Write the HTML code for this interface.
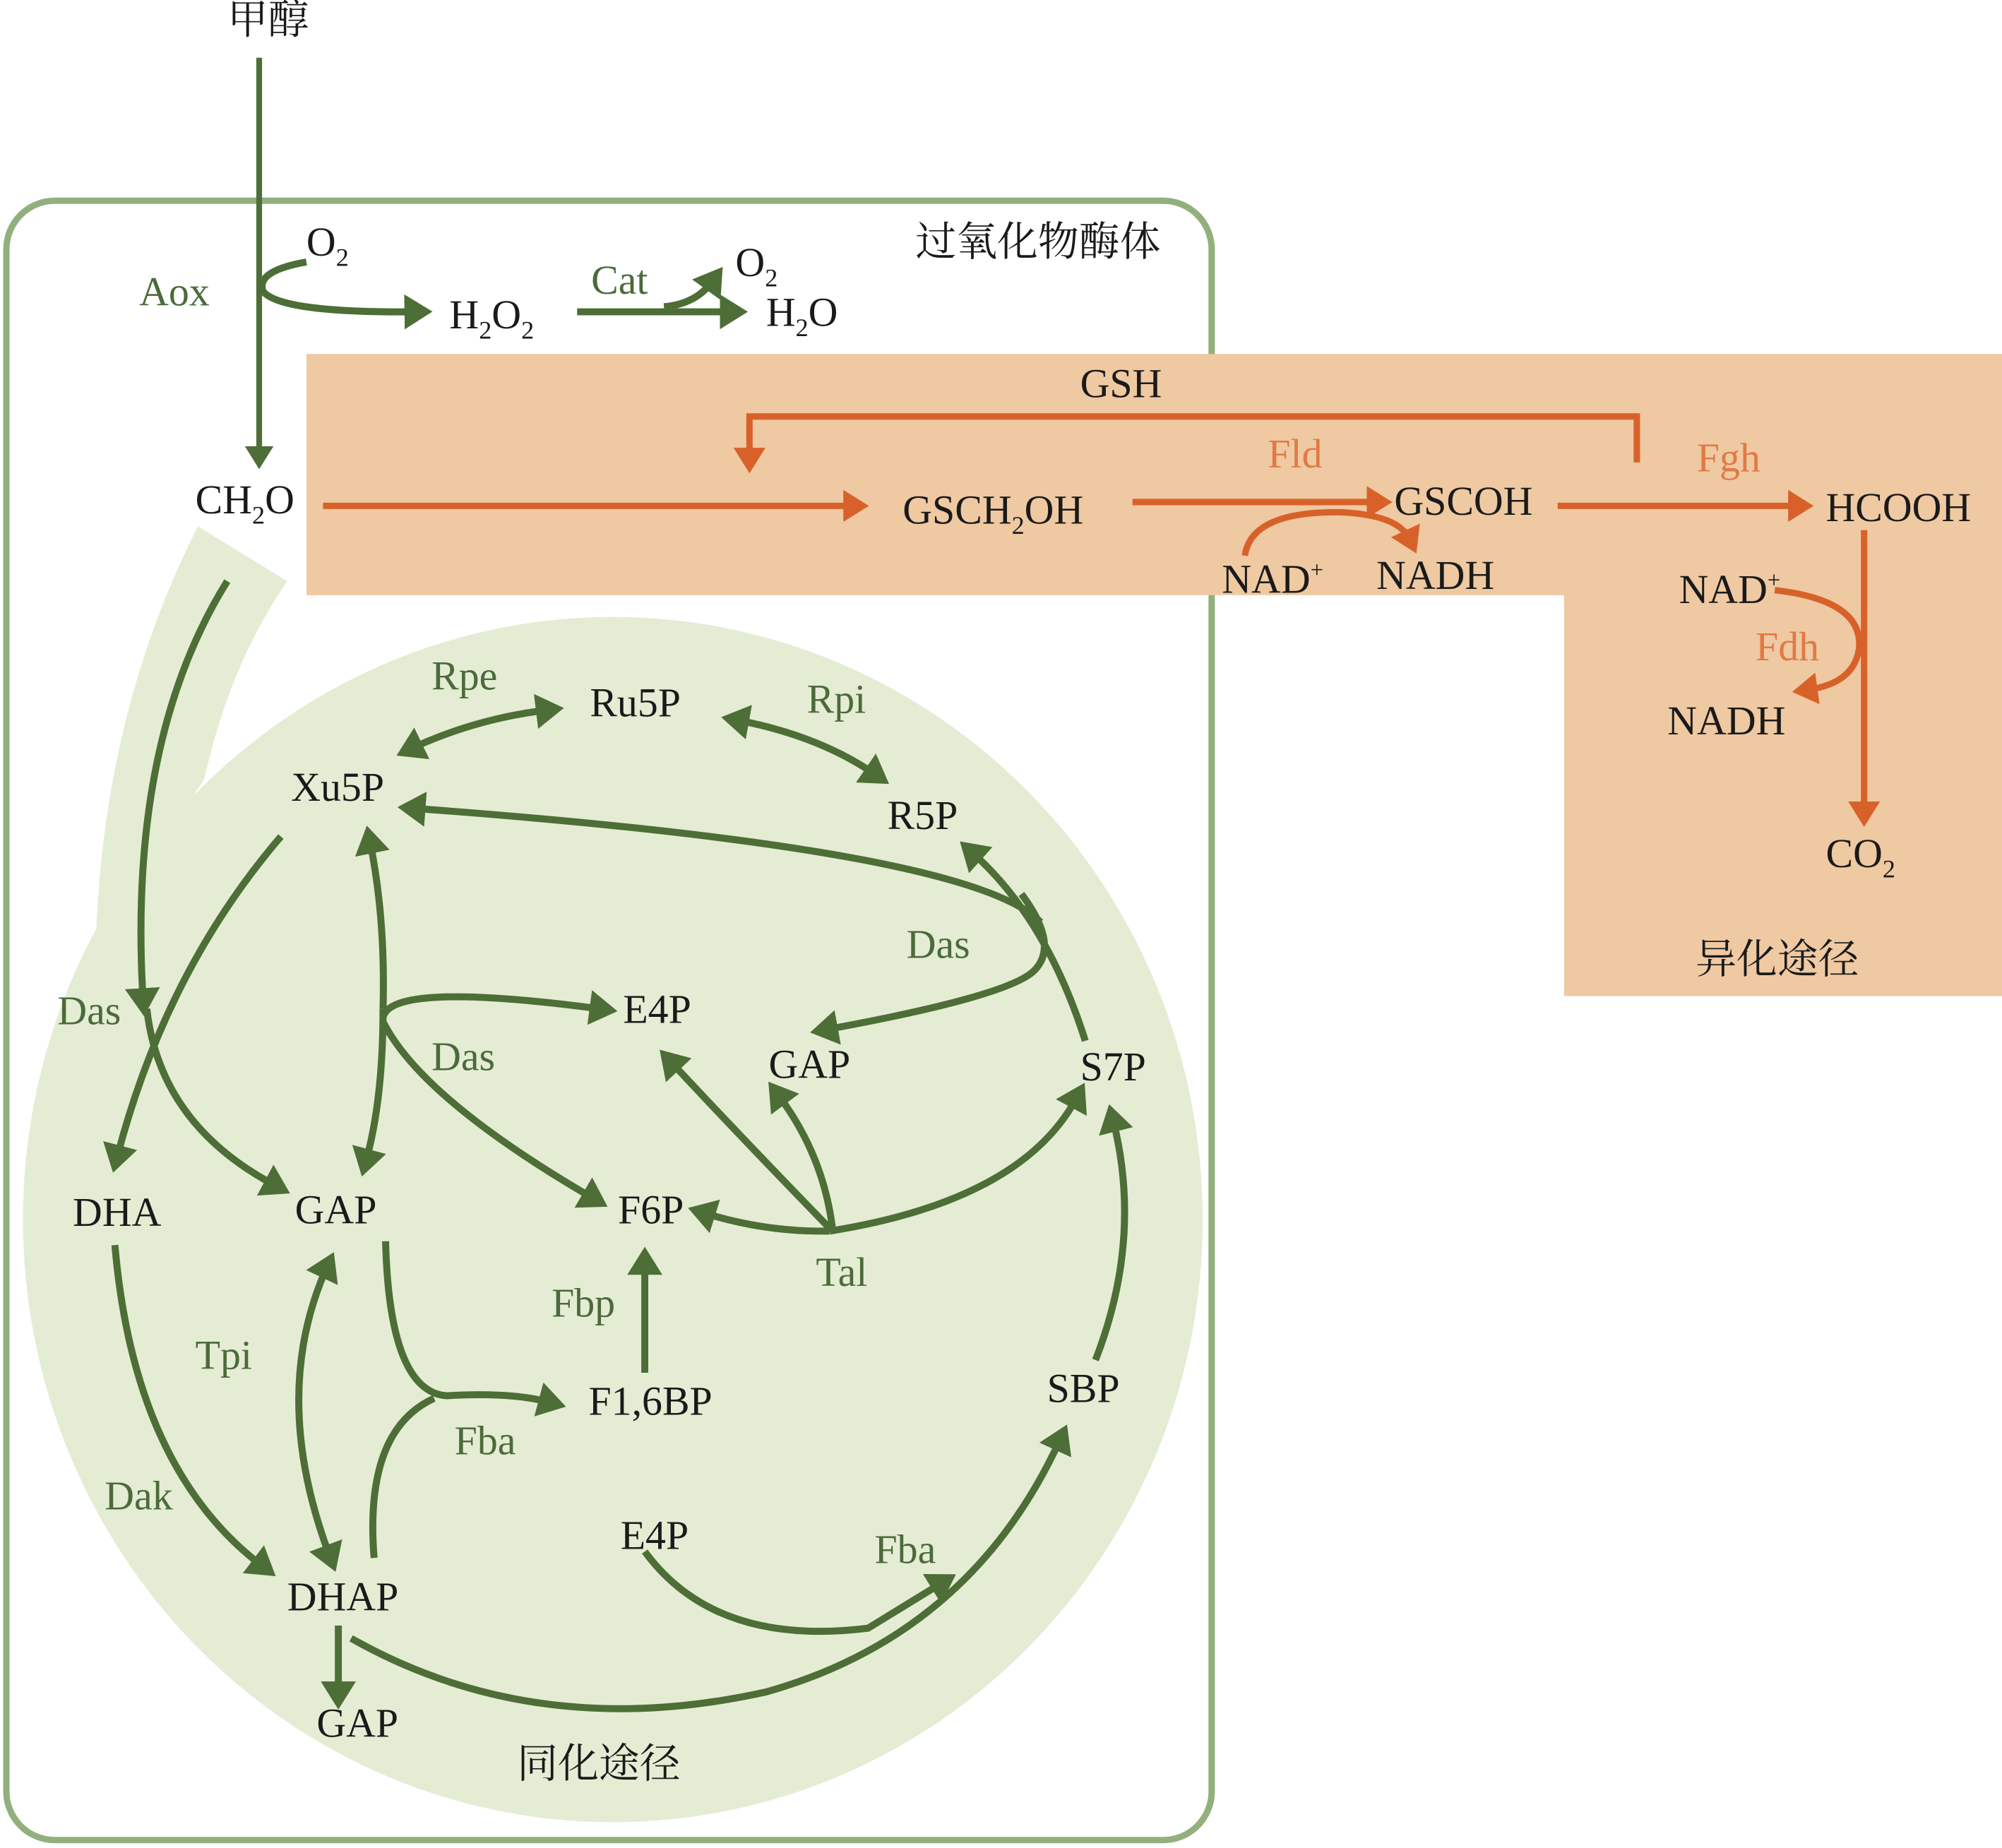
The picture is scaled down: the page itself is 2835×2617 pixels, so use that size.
<!DOCTYPE html>
<html><head><meta charset="utf-8"><style>
html,body{margin:0;padding:0;background:#fff}
svg{display:block}
text{font-family:"Liberation Serif","Noto Serif CJK SC","Noto Sans CJK SC",serif;font-size:32px;fill:#1a1a1a}
.g{fill:#4b6b3a}
.o{fill:#e07a45}
.cn{font-family:"Noto Serif CJK SC","Noto Sans CJK SC",serif}
.ga{fill:none;stroke:#4d6e37;stroke-width:5.5;marker-end:url(#ag)}
.gn{fill:none;stroke:#4d6e37;stroke-width:5.5}
.gd{fill:none;stroke:#4d6e37;stroke-width:5.5;marker-end:url(#ag);marker-start:url(#ags)}
.oa{fill:none;stroke:#d8612a;stroke-width:5;marker-end:url(#ao)}
.on{fill:none;stroke:#d8612a;stroke-width:5}
</style></head><body>
<svg width="2835" height="2617" viewBox="0 0 1568 1447" xmlns="http://www.w3.org/2000/svg">
<defs>
<marker id="ag" markerWidth="5" markerHeight="5" refX="1.5" refY="2.5" orient="auto" markerUnits="strokeWidth"><path d="M0,0 L4,2.5 L0,5 Z" fill="#4d6e37"/></marker>
<marker id="ags" markerWidth="5" markerHeight="5" refX="2.5" refY="2.5" orient="auto-start-reverse" markerUnits="strokeWidth"><path d="M0,0 L4,2.5 L0,5 Z" fill="#4d6e37"/></marker>
<marker id="ao" markerWidth="5" markerHeight="5" refX="1.5" refY="2.5" orient="auto" markerUnits="strokeWidth"><path d="M0,0 L4,2.5 L0,5 Z" fill="#d8612a"/></marker>
</defs>
<rect x="5" y="157" width="944" height="1284" rx="38" fill="none" stroke="#92b07e" stroke-width="5"/>
<ellipse cx="480" cy="955" rx="462" ry="472" fill="#e5ecd4"/>
<path d="M155,412 L225,455 Q180,520 160,610 L75,740 Q80,560 155,412 Z" fill="#e5ecd4"/>
<path d="M240,277 L1568,277 L1568,780 L1225,780 L1225,466 L240,466 Z" fill="#efc9a2"/>

<text x="178" y="26" class="cn">甲醇</text>
<line x1="203" y1="45" x2="203" y2="356" stroke="#4d6e37" stroke-width="4.5" marker-end="url(#ag)"/>
<path class="ga" d="M240,205 Q200,212 206,228 Q220,245 325,244"/>
<text x="109" y="239" class="g">Aox</text>
<text x="240" y="200">O<tspan font-size="20" dy="8">2</tspan></text>
<text x="352" y="257">H<tspan font-size="20" dy="8">2</tspan><tspan dy="-8">O</tspan><tspan font-size="20" dy="8">2</tspan></text>
<text x="463" y="230" class="g">Cat</text>
<line class="ga" x1="452" y1="244" x2="572" y2="244"/>
<path class="ga" d="M520,240 Q545,238 558,220"/>
<text x="576" y="216">O<tspan font-size="20" dy="8">2</tspan></text>
<text x="600" y="255">H<tspan font-size="20" dy="8">2</tspan><tspan dy="-8">O</tspan></text>
<text x="717" y="200" class="cn">过氧化物酶体</text>

<text x="153" y="402">CH<tspan font-size="20" dy="8">2</tspan><tspan dy="-8">O</tspan></text>
<line class="oa" x1="253" y1="396" x2="668" y2="396"/>
<text x="846" y="311">GSH</text>
<path class="oa" d="M1282,362 L1282,326 L587,326 L587,358"/>
<text x="707" y="410">GSCH<tspan font-size="20" dy="8">2</tspan><tspan dy="-8">OH</tspan></text>
<text x="993" y="366" class="o">Fld</text>
<line class="oa" x1="887" y1="393" x2="1078" y2="393"/>
<path class="oa" d="M975,435 Q980,400 1050,401 Q1095,403 1104,422"/>
<text x="1092" y="403">GSCOH</text>
<text x="957" y="464">NAD<tspan font-size="18" dy="-12">+</tspan></text>
<text x="1078" y="461">NADH</text>
<text x="1329" y="369" class="o">Fgh</text>
<line class="oa" x1="1220" y1="396" x2="1408" y2="396"/>
<text x="1430" y="408">HCOOH</text>
<line class="oa" x1="1460" y1="415" x2="1460" y2="635"/>
<path class="oa" d="M1390,462 Q1460,470 1456,508 Q1452,535 1416,540"/>
<text x="1315" y="472">NAD<tspan font-size="18" dy="-12">+</tspan></text>
<text x="1375" y="517" class="o">Fdh</text>
<text x="1306" y="575">NADH</text>
<text x="1430" y="679">CO<tspan font-size="20" dy="8">2</tspan></text>
<text x="1328" y="762" class="cn">异化途径</text>

<path class="ga" d="M178,455 Q100,580 112,782"/>
<path class="ga" d="M115,790 Q125,880 215,928"/>
<path class="ga" d="M220,655 Q130,760 92,905"/>
<text x="45" y="802" class="g">Das</text>
<text x="338" y="540" class="g">Rpe</text>
<path class="gd" d="M318,588 Q370,563 428,556"/>
<text x="462" y="561">Ru5P</text>
<text x="632" y="558" class="g">Rpi</text>
<path class="gd" d="M573,563 Q640,575 685,606"/>
<text x="228" y="627">Xu5P</text>
<text x="695" y="649">R5P</text>
<path class="ga" d="M850,815 Q820,720 762,668"/>
<path class="ga" d="M815,722 Q760,665 325,633"/>
<path class="ga" d="M800,700 Q830,740 810,760 Q790,780 648,806"/>
<text x="710" y="750" class="g">Das</text>
<path class="ga" d="M300,790 Q302,720 290,660"/>
<path class="ga" d="M300,790 Q300,860 287,908"/>
<path class="ga" d="M300,797 Q305,768 470,790"/>
<path class="ga" d="M300,800 Q330,860 464,938"/>
<text x="488" y="801">E4P</text>
<text x="338" y="838" class="g">Das</text>
<text x="602" y="844">GAP</text>
<text x="846" y="846">S7P</text>
<path class="ga" d="M650,962 Q580,890 526,832"/>
<path class="ga" d="M652,962 Q645,905 610,858"/>
<path class="ga" d="M650,964 Q600,965 552,950"/>
<path class="ga" d="M650,964 Q800,940 843,860"/>
<text x="639" y="1007" class="g">Tal</text>
<text x="57" y="960">DHA</text>
<text x="231" y="958">GAP</text>
<text x="484" y="958">F6P</text>
<line class="ga" x1="505" y1="1075" x2="505" y2="990"/>
<text x="432" y="1031" class="g">Fbp</text>
<text x="461" y="1108">F1,6BP</text>
<path class="ga" d="M302,972 Q305,1090 350,1093 Q400,1090 430,1098"/>
<path class="gn" d="M293,1220 Q285,1120 340,1095"/>
<text x="356" y="1139" class="g">Fba</text>
<path class="gd" d="M258,988 Q210,1090 258,1218"/>
<text x="153" y="1072" class="g">Tpi</text>
<path class="ga" d="M90,975 Q105,1150 205,1226"/>
<text x="82" y="1182" class="g">Dak</text>
<text x="225" y="1261">DHAP</text>
<line class="ga" x1="265" y1="1273" x2="265" y2="1325"/>
<text x="248" y="1360">GAP</text>
<path class="ga" d="M275,1283 Q420,1365 600,1325 Q760,1280 830,1128"/>
<path class="ga" d="M505,1215 Q560,1290 680,1275 L737,1240"/>
<text x="486" y="1213">E4P</text>
<text x="685" y="1224" class="g">Fba</text>
<text x="820" y="1098">SBP</text>
<path class="ga" d="M858,1065 Q895,970 872,878"/>
<text x="405" y="1392" class="cn">同化途径</text>
</svg>
</body></html>
